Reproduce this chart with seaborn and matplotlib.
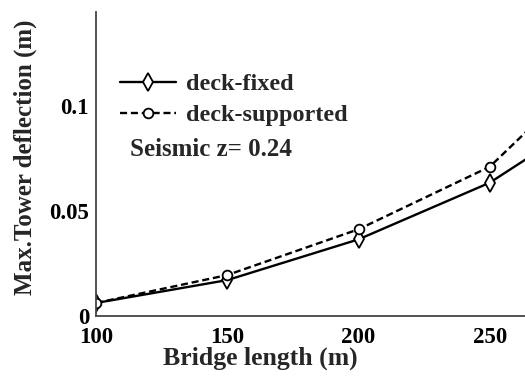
import numpy as np
import pandas as pd
import matplotlib
matplotlib.use("Agg")
import matplotlib.pyplot as plt
import seaborn as sns

# values
bridge_length = [100, 150, 200, 250, 300]
deck_fixed = [0.0062, 0.0171, 0.0365, 0.0635, 0.104]
deck_supported = [0.0062, 0.0195, 0.0413, 0.0711, 0.131]
x_ticks = [100, 150, 200, 250]
y_ticks = [0, 0.05, 0.1]
y_tick_labels = ["0", "0.05", "0.1"]

sns.set_theme(style="white")
plt.rcParams['font.family'] = ['Liberation Serif', 'DejaVu Serif']
plt.rcParams['font.weight'] = 'bold'

fig = plt.figure(figsize=(5.25, 3.76), dpi=100)
W, H = 525, 376
# axes runs past the right edge of the picture (it is cropped there)
ax = fig.add_axes([96 / W, (H - 316) / H, (621 - 96) / W, (316 - 12) / H])

sns.lineplot(x=bridge_length, y=deck_fixed, ax=ax, color='black', lw=1.7,
             marker='d', markersize=9, markerfacecolor='white',
             markeredgecolor='black', markeredgewidth=1.3, label='deck-fixed')
sns.lineplot(x=bridge_length, y=deck_supported, ax=ax, color='black', lw=1.7,
             linestyle=(0, (3, 1.6)), marker='o', markersize=7,
             markerfacecolor='white', markeredgecolor='black',
             markeredgewidth=1.3, label='deck-supported')

ax.set_xlim(100, 300)
ax.set_ylim(0, 0.1448)
ax.set_xticks(x_ticks)
ax.set_yticks(y_ticks)
ax.set_yticklabels(y_tick_labels)
ax.tick_params(direction='in', length=6, width=1, colors='#333333',
               labelcolor='black', labelsize=16.5)
ax.tick_params(axis='x', pad=8)
ax.tick_params(axis='y', pad=5)
for lab in ax.get_xticklabels() + ax.get_yticklabels():
    lab.set_fontweight('bold')

for s in ['top', 'right']:
    ax.spines[s].set_visible(False)
for s in ['left', 'bottom']:
    ax.spines[s].set_color('#444444')
    ax.spines[s].set_linewidth(1.3)

ax.set_xlabel('')
ax.set_ylabel('')
fig.text(260 / W, (H - 358) / H, 'Bridge length (m)', ha='center',
         va='center', fontsize=18.5, fontweight='bold')
fig.text(25 / W, (H - 157) / H, 'Max.Tower deflection (m)', rotation=90,
         ha='center', va='center', fontsize=18, fontweight='bold')

leg = ax.legend(loc='upper left', bbox_to_anchor=(120 / W, (H - 73) / H),
                bbox_transform=fig.transFigure, frameon=False,
                fontsize=17.5, handlelength=2.3, handletextpad=0.4,
                labelspacing=0.38, borderpad=0, borderaxespad=0)
for t in leg.get_texts():
    t.set_fontweight('bold')

fig.text(130 / W, (H - 149) / H, 'Seismic z= 0.24', fontsize=18,
         fontweight='bold', va='center', ha='left')

fig.savefig('out.png', dpi=100)
